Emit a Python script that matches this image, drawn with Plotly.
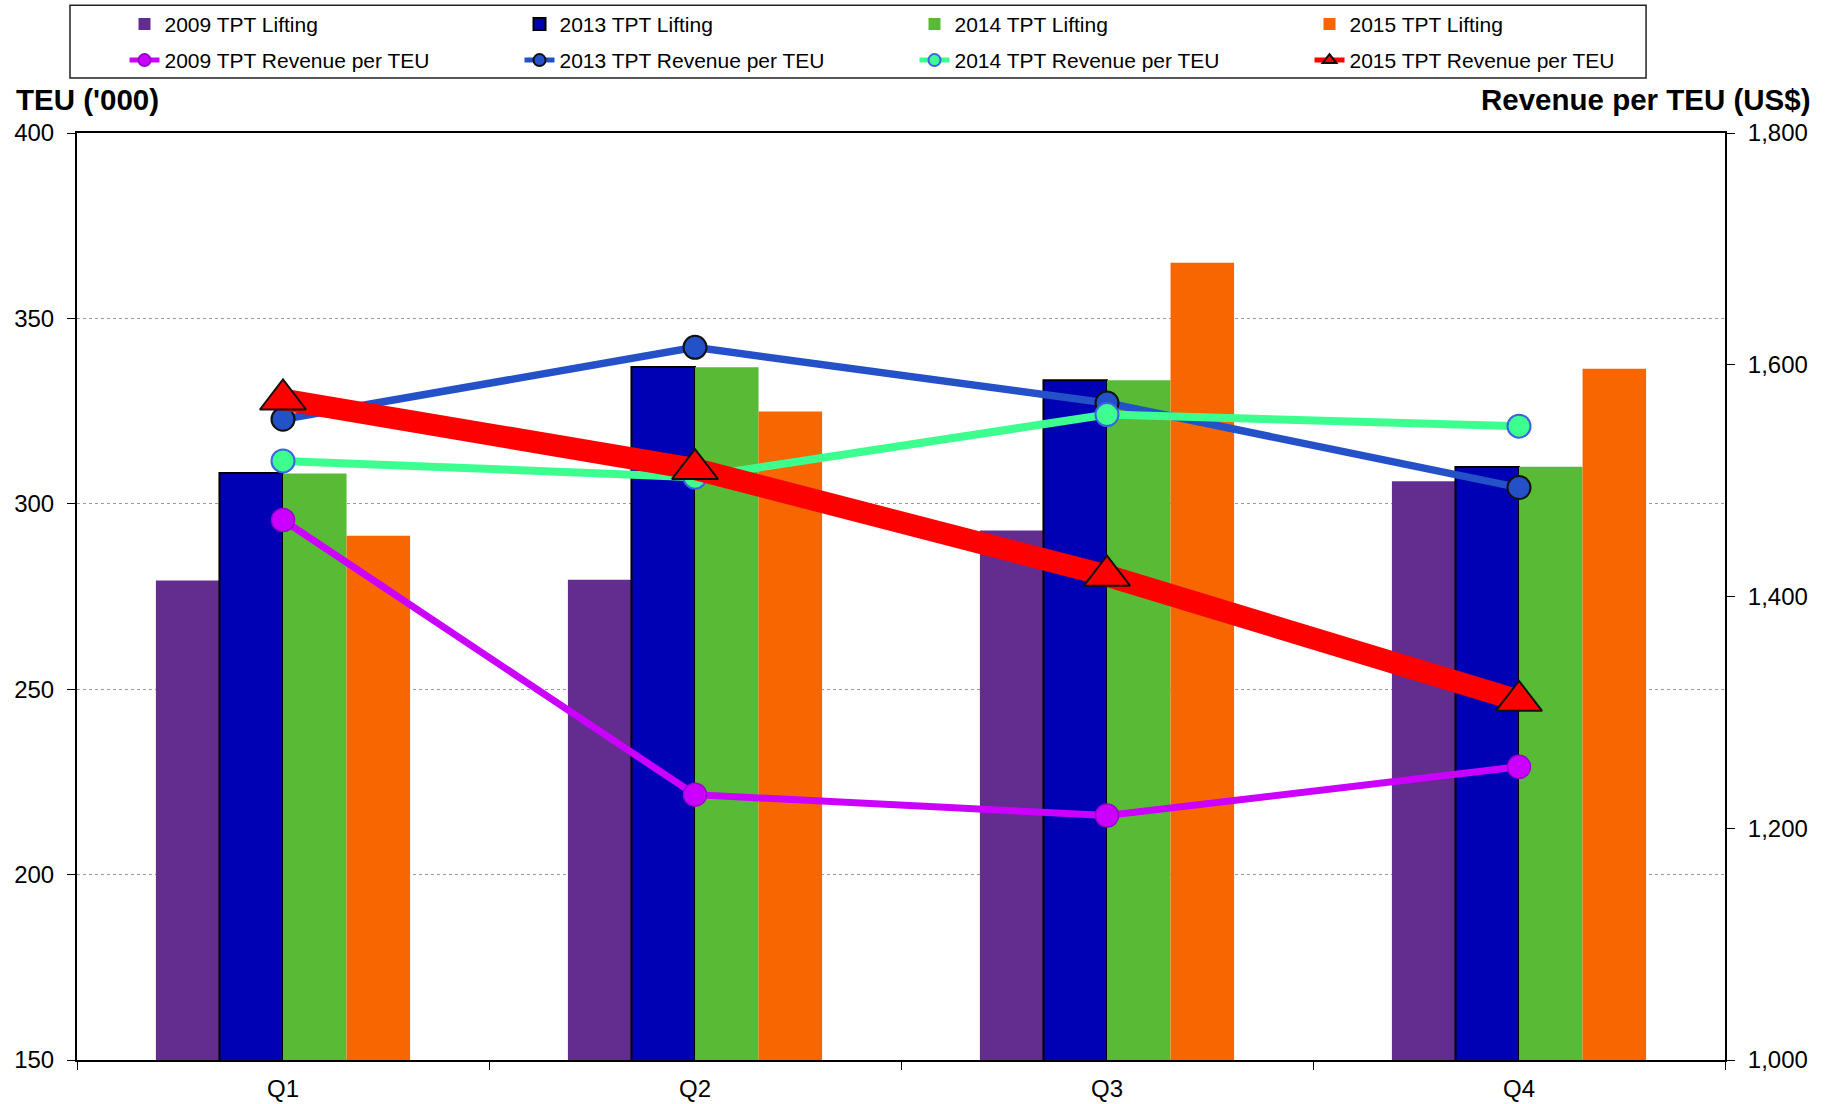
import plotly.graph_objects as go

quarters = ["Q1", "Q2", "Q3", "Q4"]

lifting_2009 = [279.3, 279.5, 292.8, 306.1]
lifting_2013 = [308.3, 336.9, 333.3, 309.9]
lifting_2014 = [308.2, 336.8, 333.3, 310.0]
lifting_2015 = [291.4, 324.9, 365.0, 336.4]

rev_2009 = [1466, 1229, 1211, 1253]
rev_2013 = [1553, 1615, 1567, 1494]
rev_2014 = [1517, 1503, 1557, 1547]
rev_2015 = [1570, 1510, 1418, 1310]

left_ticks = [150, 200, 250, 300, 350, 400]
right_ticks = [1000, 1200, 1400, 1600, 1800]

FONT = "Liberation Sans, Arial, sans-serif"

fig = go.Figure()

bar_specs = [
    ("2009 TPT Lifting", lifting_2009, "#632C8F", 0, "#632C8F"),
    ("2013 TPT Lifting", lifting_2013, "#0000B4", 2, "#000000"),
    ("2014 TPT Lifting", lifting_2014, "#59BB35", 0, "#59BB35"),
    ("2015 TPT Lifting", lifting_2015, "#F76600", 0, "#F76600"),
]
for name, vals, col, lw, lc in bar_specs:
    fig.add_trace(go.Bar(
        x=quarters, y=vals, name=name, yaxis="y", legend="legend",
        marker=dict(color=col, line=dict(width=lw, color=lc)),
    ))

line_specs = [
    ("2009 TPT Revenue per TEU", rev_2009, "#CC00FF", 7, "circle", 23, "#9900CC", 1.5),
    ("2013 TPT Revenue per TEU", rev_2013, "#2450C8", 7.5, "circle", 23, "#111111", 2),
    ("2014 TPT Revenue per TEU", rev_2014, "#3CFF90", 8, "circle", 23, "#3D63E0", 2),
    ("2015 TPT Revenue per TEU", rev_2015, "#FF0000", 22, "triangle-up", 40, "#111111", 2),
]
for name, vals, col, w, sym, size, mlc, mlw in line_specs:
    fig.add_trace(go.Scatter(
        x=quarters, y=vals, name=name, yaxis="y2", mode="lines+markers", legend="legend2",
        line=dict(color=col, width=w),
        marker=dict(symbol=sym, size=size, color=col, line=dict(color=mlc, width=mlw)),
    ))

legend_common = dict(
    orientation="h", xref="container", yref="container", xanchor="left", yanchor="top",
    entrywidth=350, entrywidthmode="pixels",
    font=dict(family=FONT, size=21, color="black"),
    borderwidth=0, bgcolor="rgba(0,0,0,0)", itemsizing="constant",
)

fig.update_layout(
    width=1831, height=1104,
    margin=dict(l=77, r=106, t=133, b=44),
    paper_bgcolor="white", plot_bgcolor="white",
    barmode="group", bargap=0.383, bargroupgap=0,
    font=dict(family=FONT, size=24, color="black"),
    showlegend=True,
    legend=dict(x=0.068, y=0.9964, **legend_common),
    legend2=dict(x=0.068, y=0.9638, **legend_common),
    xaxis=dict(
        showline=True, linecolor="black", linewidth=2, mirror=True,
        ticks="outside", ticklen=8, tickcolor="black", tickson="boundaries",
        showgrid=False, tickfont=dict(size=24), ticklabelstandoff=6, automargin=False,
    ),
    yaxis=dict(
        range=[150, 400], tickvals=left_ticks, showline=True, linecolor="black", linewidth=2,
        ticks="outside", ticklen=8, tickcolor="black",
        showgrid=True, gridcolor="#9a9a9a", griddash="dot", gridwidth=1,
        zeroline=False, tickfont=dict(size=24), ticklabelstandoff=8, automargin=False,
    ),
    yaxis2=dict(
        range=[1000, 1800], tickvals=right_ticks, tickformat=",", overlaying="y", side="right",
        showline=True, linecolor="black", linewidth=2,
        ticks="outside", ticklen=8, tickcolor="black",
        showgrid=False, zeroline=False, tickfont=dict(size=24), ticklabelstandoff=8, automargin=False,
    ),
    shapes=[
        dict(type="rect", xref="paper", yref="paper",
             x0=-0.00425, x1=0.9521, y0=1.0593, y1=1.1379,
             line=dict(color="#222222", width=1.5), fillcolor="rgba(0,0,0,0)", layer="below"),
    ],
    annotations=[
        dict(text="<b>TEU ('000)</b>", xref="paper", yref="paper",
             x=-0.0385, y=1.0366, xanchor="left", yanchor="middle",
             showarrow=False, font=dict(family=FONT, size=29.5, color="black")),
        dict(text="<b>Revenue per TEU (US$)</b>", xref="paper", yref="paper",
             x=1.0535, y=1.0366, xanchor="right", yanchor="middle",
             showarrow=False, font=dict(family=FONT, size=29.5, color="black")),
    ],
)

fig.write_html("out.html", config={"displayModeBar": False},
               post_script="document.body.style.margin='0';")
